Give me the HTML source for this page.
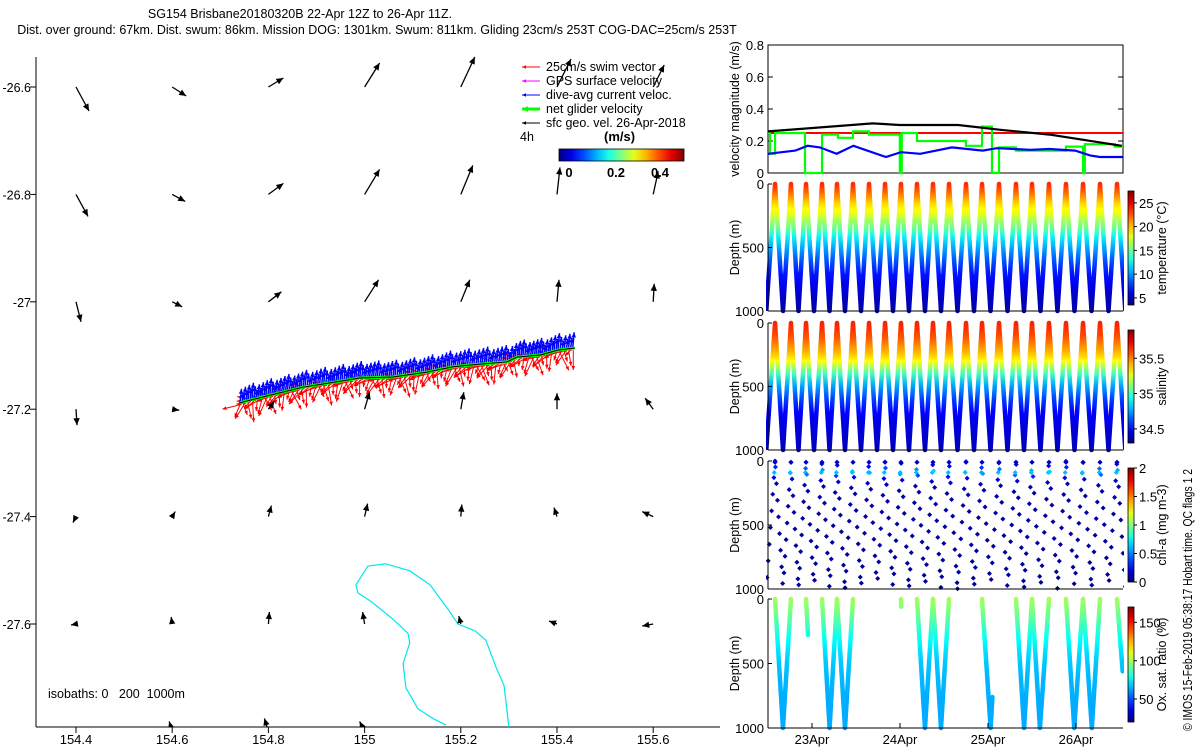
<!DOCTYPE html>
<html><head><meta charset="utf-8"><title>SG154 glider summary</title>
<style>
html,body{margin:0;padding:0;background:#fff;}
svg{display:block;font-family:"Liberation Sans",sans-serif;}
</style></head>
<body>
<svg id="root" width="1200" height="750" viewBox="0 0 1200 750" xmlns="http://www.w3.org/2000/svg">
<defs>
<clipPath id="mapClip"><rect x="36" y="45" width="684" height="682"/></clipPath>
<clipPath id="tsClip"><rect x="766" y="30" width="358" height="720"/></clipPath>
</defs>
<text x="300" y="18" font-size="12.5" text-anchor="middle">SG154 Brisbane20180320B 22-Apr 12Z to 26-Apr 11Z.</text>
<text x="377" y="34" font-size="12.5" text-anchor="middle">Dist. over ground: 67km. Dist. swum: 86km. Mission DOG: 1301km. Swum: 811km. Gliding 23cm/s 253T COG-DAC=25cm/s 253T</text>
<g id="map"></g>
<g id="ts"></g>
<text transform="translate(1192,731) rotate(-90)" font-size="12.5" textLength="262" lengthAdjust="spacingAndGlyphs">© IMOS 15-Feb-2019 05:38:17 Hobart time. QC flags 1 2</text>
</svg>
<script>
// ---------- DATA ----------
const gridLons = [154.4, 154.6, 154.8, 155.0, 155.2, 155.4, 155.6];
const gridLats = [-26.6, -26.8, -27.0, -27.2, -27.4, -27.6, -27.8];
const geoU = [
  [0.13,0.14,0.15,0.15,0.14,0.14,0.11],
  [0.12,0.13,0.15,0.15,0.12,0.03,0.05],
  [0.05,0.10,0.13,0.14,0.09,0.02,0.01],
  [0.01,0.07,0.06,0.05,0.03,0.00,-0.08],
  [-0.03,0.03,0.03,0.03,0.01,-0.03,-0.11],
  [-0.05,-0.01,0.01,-0.02,-0.02,-0.08,-0.11],
  [-0.01,-0.03,-0.04,-0.05,0.00,0.00,0.00]];
const geoV = [
  [-0.24,-0.09,0.09,0.24,0.30,0.28,0.22],
  [-0.22,-0.07,0.11,0.25,0.29,0.27,0.23],
  [-0.20,-0.05,0.10,0.22,0.22,0.22,0.18],
  [-0.16,-0.01,0.08,0.17,0.17,0.16,0.11],
  [-0.06,0.05,0.11,0.13,0.12,0.09,0.05],
  [-0.01,0.07,0.12,0.12,0.08,0.03,-0.02],
  [0.03,0.10,0.13,0.10,0.02,0.02,0.02]];
const trackLon = [154.741,154.803,154.872,154.928,154.990,155.059,155.130,155.184,155.240,155.296,155.317,155.365,155.402,155.437];
const trackLat = [-27.188,-27.174,-27.159,-27.151,-27.142,-27.140,-27.131,-27.121,-27.116,-27.112,-27.103,-27.099,-27.090,-27.086];
const isoLon = [155.169,155.144,155.111,155.086,155.080,155.094,155.090,155.059,155.015,154.986,154.982,155.007,155.044,155.094,155.136,155.173,155.194,155.230,155.252,155.273,155.290,155.300];
const isoLat = [-27.788,-27.777,-27.758,-27.719,-27.674,-27.635,-27.617,-27.591,-27.559,-27.542,-27.527,-27.492,-27.488,-27.501,-27.527,-27.572,-27.600,-27.613,-27.630,-27.680,-27.715,-27.792];
const blackT = [-0.5,0.69,1.0,1.66,2.14,2.70,3.52];
const blackV = [0.26,0.31,0.30,0.30,0.27,0.24,0.17];
const blueT = [-0.5,-0.19,-0.05,0.09,0.28,0.47,0.84,1.01,1.23,1.59,1.94,2.10,2.48,2.70,2.99,3.16,3.27,3.53];
const blueV = [0.12,0.14,0.17,0.16,0.12,0.17,0.10,0.13,0.12,0.16,0.14,0.155,0.145,0.15,0.14,0.11,0.10,0.10];
const greenT = [-0.5,-0.477,-0.42,-0.08,0.114,0.295,0.466,0.648,0.998,1.02,1.193,1.75,1.932,2.045,2.125,2.318,2.886,3.08,3.1,3.44];
const greenV = [0.25,0.12,0.25,0,0.24,0.22,0.26,0.24,0,0.25,0.20,0.17,0.29,0,0.16,0.14,0.165,0,0.18,0.165];
const redV = 0.25;
const surfaceT = [-0.420,-0.239,-0.068,0.114,0.284,0.466,0.648,0.830,1.011,1.193,1.375,1.557,1.750,1.932,2.125,2.318,2.500,2.693,2.886,3.080,3.273,3.466];
const firstBottomT = -0.52;
const profDepth = [0,50,100,150,200,250,300,350,400,500,600,700,800,900,1000];
const tempProf = [23.5,22.5,21,19.5,18.5,17.5,16,15,13,10.5,8.5,7,6,5,4.5];
const salProf = [35.65,35.62,35.58,35.52,35.45,35.38,35.3,35.15,35.0,34.75,34.6,34.5,34.45,34.42,34.4];
const oxProf = [100,97,94,90,86,82,78,75,72,68,66,65,64,64,64];
const chlDepth = [0,40,80,100,130,200,1000];
const chlProf = [0.12,0.2,0.7,0.55,0.2,0.08,0.05];
const oxLegs = [[-0.420,0,-0.330,1000],[-0.330,1000,-0.239,0],[-0.068,0,-0.045,280],
  [0.114,0,0.20,1000],[0.20,1000,0.284,0],[0.284,0,0.375,1000],[0.375,1000,0.466,0],
  [1.011,0,1.014,60],[1.193,0,1.284,1000],[1.284,1000,1.375,0],[1.375,0,1.466,1000],[1.466,1000,1.557,0],
  [1.932,0,2.03,1000],[2.03,1000,2.05,760],[2.318,0,2.41,1000],[2.41,1000,2.50,0],[2.50,0,2.59,1000],[2.59,1000,2.693,0],
  [2.886,0,2.98,1000],[2.98,1000,3.08,0],[3.08,0,3.18,1000],[3.18,1000,3.273,0],[3.466,0,3.53,560]];
const dayTicks = [0,1,2,3];
const dayLabels = ['23Apr','24Apr','25Apr','26Apr'];
const velTicks = [0,0.2,0.4,0.6,0.8];

// ---------- HELPERS ----------
const NS='http://www.w3.org/2000/svg';
function mk(tag, attrs, parent){const e=document.createElementNS(NS,tag);for(const k in attrs)e.setAttribute(k,attrs[k]);parent.appendChild(e);return e;}
function jet(v){v=Math.max(0,Math.min(1,v));const c=x=>Math.round(255*Math.max(0,Math.min(1,1.5-Math.abs(x))));return `rgb(${c(4*v-3)},${c(4*v-2)},${c(4*v-1)})`;}
const root=document.getElementById('root');
const defs=root.querySelector('defs');
const map=document.getElementById('map');
const ts=document.getElementById('ts');
const lonX=l=>76+(l-154.4)*481;
const latY=l=>87+(-26.6-l)*537;
const tX=t=>812+88*t;
const fmt=v=>{const s=v.toFixed(1);return s.endsWith('.0')?s.slice(0,-2):s;};

// ---------- MAP ----------
let e;
e=mk('line',{x1:36,y1:57,x2:36,y2:727,stroke:'#000'},map);


e=mk('line',{x1:36,y1:727,x2:720,y2:727,stroke:'#000'},map);


gridLats.slice(0,6).forEach(la=>{const y=latY(la);
  mk('line',{x1:30,y1:y,x2:36,y2:y,stroke:'#000'},map);
  e=mk('text',{x:31,y:y+5,'font-size':12.5,'text-anchor':'end'},map);e.textContent=fmt(la);
  
  });
gridLons.forEach(lo=>{const x=lonX(lo);
  mk('line',{x1:x,y1:727,x2:x,y2:733,stroke:'#000'},map);
  e=mk('text',{x:x,y:744,'font-size':13,'text-anchor':'middle'},map);e.textContent=fmt(lo);
  
  });
const mg=mk('g',{'clip-path':'url(#mapClip)'},map);
e=mk('polyline',{points:isoLon.map((l,i)=>lonX(l)+','+latY(isoLat[i])).join(' '),fill:'none',stroke:'#00e5ee','stroke-width':1.2},mg);


function arrow(g,x1,y1,x2,y2,col,w,hs){
  mk('line',{x1:x1,y1:y1,x2:x2,y2:y2,stroke:col,'stroke-width':w},g);
  const a=Math.atan2(y2-y1,x2-x1),L=hs,W=hs*0.45;
  const bx=x2-L*Math.cos(a),by=y2-L*Math.sin(a);
  return mk('polygon',{points:`${x2},${y2} ${bx-W*Math.sin(a)},${by+W*Math.cos(a)} ${bx+W*Math.sin(a)},${by-W*Math.cos(a)}`,fill:col},g);
}
const trk=mk('g',{},mg);


const tp=trackLon.map((l,i)=>[lonX(l),latY(trackLat[i])]);
let k=0;
for(let i=0;i<tp.length-1;i++){const [x1,y1]=tp[i],[x2,y2]=tp[i+1];const n=Math.max(2,Math.round((x2-x1)/1.6));
  for(let j=0;j<n;j++){const f=j/n,x=x1+(x2-x1)*f,y=y1+(y2-y1)*f;k++;
    const ang=(60+((k*53)%150))*Math.PI/180,len=8+((k*7)%16);
    arrow(trk,x,y+2,x+len*Math.cos(ang)*0.9,y+2+len*Math.sin(ang)*0.9,'#ff0000',1,4);
  }}
k=0;
for(let i=0;i<tp.length-1;i++){const [x1,y1]=tp[i],[x2,y2]=tp[i+1];const n=Math.max(2,Math.round((x2-x1)/2));
  for(let j=0;j<n;j++){const f=j/n,x=x1+(x2-x1)*f,y=y1+(y2-y1)*f;k++;
    const len=9+((k*5)%9);
    arrow(trk,x,y,x+1.5,y-len,'#0000ff',1.5,5);
  }}
e=mk('polyline',{points:tp.map(p=>p.join(',')).join(' '),fill:'none',stroke:'#00ff00','stroke-width':3},trk);


e=mk('polyline',{points:tp.map(p=>p.join(',')).join(' '),fill:'none',stroke:'#000','stroke-width':1},trk);


gridLats.forEach((la,r)=>gridLons.forEach((lo,c)=>{
  const x=lonX(lo),y=latY(la),u=geoU[r][c],v=geoV[r][c];
  const g=mk('g',{},mg);
  
  
  arrow(g,x,y,x+u*100,y-v*100,'#000',1.3,7);
}));
const lg=mk('g',{},map);


const legTxt=['25cm/s swim vector','GPS surface velocity','dive-avg current veloc.','net glider velocity','sfc geo. vel. 26-Apr-2018'];
const legCol=['#ff0000','#ff00ff','#0000ff','#00ff00','#000000'];
legTxt.forEach((t,i)=>{const y=67+i*14;
  arrow(lg,540,y,522,y,legCol[i],i===3?3:1,i===3?6:4);
  e=mk('text',{x:546,y:y+4,'font-size':12.5},lg);e.textContent=t;
  
  });
e=mk('text',{x:520,y:141,'font-size':12.5},lg);e.textContent='4h';


e=mk('text',{x:604,y:141,'font-size':13,'font-weight':'bold'},lg);e.textContent='(m/s)';


const hg=mk('linearGradient',{id:'hjet',x1:0,y1:0,x2:1,y2:0},defs);
for(let i=0;i<=10;i++)mk('stop',{offset:i/10,'stop-color':jet(i/10)},hg);
e=mk('rect',{x:559,y:149,width:125,height:12,fill:'url(#hjet)',stroke:'#000','stroke-width':0.8},lg);


[['0',569],['0.2',616],['0.4',660]].forEach(([t,x])=>{e=mk('text',{x:x,y:177,'font-size':13,'font-weight':'bold','text-anchor':'middle'},lg);e.textContent=t;
  
  });
e=mk('text',{x:48,y:698,'font-size':12.5},map);e.textContent='isobaths: 0   200  1000m';


e.style.whiteSpace='pre';

// ---------- TIME SERIES ----------
const L=768,R=1123;
const vTop=45,vBot=173,vY=v=>vBot-(v/0.8)*(vBot-vTop);
e=mk('rect',{x:L,y:vTop,width:R-L,height:vBot-vTop,fill:'none',stroke:'#000'},ts);


velTicks.forEach(v=>{const y=vY(v);mk('line',{x1:L,y1:y,x2:L+5,y2:y,stroke:'#000'},ts);mk('line',{x1:R-5,y1:y,x2:R,y2:y,stroke:'#000'},ts);
  e=mk('text',{x:764,y:y+5,'font-size':13,'text-anchor':'end'},ts);e.textContent=v===0?'0':v.toFixed(1);
  
  });
e=mk('text',{transform:'translate(739,109) rotate(-90)','font-size':12.5,'text-anchor':'middle'},ts);e.textContent='velocity magnitude (m/s)';


const vc=mk('g',{'clip-path':'url(#tsClip)'},ts);
e=mk('line',{x1:L,y1:vY(redV),x2:R,y2:vY(redV),stroke:'#ff0000','stroke-width':2},vc);


let gp=[];greenT.forEach((t,i)=>{if(i>0)gp.push(tX(t)+','+vY(greenV[i-1]));gp.push(tX(t)+','+vY(greenV[i]));});gp.push(R+','+vY(greenV[greenV.length-1]));
e=mk('polyline',{points:gp.join(' '),fill:'none',stroke:'#00ff00','stroke-width':2.2},vc);


e=mk('polyline',{points:blueT.map((t,i)=>tX(t)+','+vY(blueV[i])).join(' '),fill:'none',stroke:'#0000ff','stroke-width':2.2},vc);


e=mk('polyline',{points:blackT.map((t,i)=>tX(t)+','+vY(blackV[i])).join(' '),fill:'none',stroke:'#000','stroke-width':2.2},vc);



const panels=[
 {name:'temperature',top:184,bot:311,cb:[191,305],min:3.5,max:27.5,ticks:[5,10,15,20,25],lab:'temperature (°C)',prof:tempProf},
 {name:'salinity',top:323,bot:450,cb:[330,443],min:34.3,max:35.9,ticks:[34.5,35,35.5],lab:'salinity',prof:salProf},
 {name:'chlorophyll',top:461,bot:589,cb:[468,582],min:0,max:2,ticks:[0,0.5,1,1.5,2],lab:'chl-a (mg m-3)'},
 {name:'oxygen',top:599,bot:728,cb:[607,722],min:20,max:170,ticks:[50,100,150],lab:'Ox. sat. ratio (%)',prof:oxProf}];
panels.forEach((p,pi)=>{
  const dY=d=>p.top+d/1000*(p.bot-p.top);
  const g=mk('g',{},ts);
  
  
  const c=mk('g',{'clip-path':'url(#tsClip)'},g);
  if(p.prof){
    const gr=mk('linearGradient',{id:'g'+pi,gradientUnits:'userSpaceOnUse',x1:0,y1:p.top,x2:0,y2:p.bot},defs);
    profDepth.forEach((d,i)=>mk('stop',{offset:d/1000,'stop-color':jet((p.prof[i]-p.min)/(p.max-p.min))},gr));
    if(p.name!=='oxygen'){
      const pts=[tX(firstBottomT)+','+dY(1000)];
      surfaceT.forEach((t,i)=>{pts.push(tX(t)+','+dY(0));const nt=i<surfaceT.length-1?surfaceT[i+1]:t+0.19;pts.push(tX((t+nt)/2)+','+dY(1000));});
      e=mk('polyline',{points:pts.join(' '),fill:'none',stroke:'url(#g'+pi+')','stroke-width':4.5,'stroke-linejoin':'round'},c);
      
      
    } else {
      oxLegs.forEach(l=>{e=mk('line',{x1:tX(l[0]),y1:dY(l[1]),x2:tX(l[2]),y2:dY(l[3]),stroke:'url(#g'+pi+')','stroke-width':4.5,'stroke-linecap':'round'},c);
        
        });
    }
  } else {
    const legs=[[firstBottomT,1000,surfaceT[0],0]];
    surfaceT.forEach((t,i)=>{const nt=i<surfaceT.length-1?surfaceT[i+1]:t+0.19,b=(t+nt)/2;legs.push([t,0,b,1000]);legs.push([b,1000,nt,0]);});
    legs.forEach((l,li)=>{const off=(li*47)%130;
      const depths=[];for(let d=off;d<=1000;d+=130)depths.push(d);
      if(li%2===0)depths.push(90);
      depths.push(10);
      depths.forEach(d=>{const f=(d-l[1])/(l[3]-l[1]);const x=tX(l[0]+(l[2]-l[0])*f),y=dY(d);
        let val=chlProf[chlProf.length-1];for(let q=0;q<chlDepth.length-1;q++){if(d>=chlDepth[q]&&d<=chlDepth[q+1]){val=chlProf[q]+(chlProf[q+1]-chlProf[q])*(d-chlDepth[q])/(chlDepth[q+1]-chlDepth[q]);break;}}
        e=mk('path',{d:`M${x-2.5},${y}L${x},${y-2.5}L${x+2.5},${y}L${x},${y+2.5}Z`,fill:jet(val/2)},c);
        
        });
    });
  }
  mk('line',{x1:L,y1:p.top,x2:L,y2:p.bot,stroke:'#000'},g);
  mk('line',{x1:L,y1:p.bot,x2:R,y2:p.bot,stroke:'#000'},g);
  [0,500,1000].forEach(d=>{const y=dY(d);mk('line',{x1:L,y1:y,x2:L+4,y2:y,stroke:'#000'},g);
    e=mk('text',{x:764,y:y+5,'font-size':13,'text-anchor':'end'},g);e.textContent=String(d);
    
    });
  e=mk('text',{transform:`translate(739,${(p.top+p.bot)/2}) rotate(-90)`,'font-size':12.5,'text-anchor':'middle'},g);e.textContent='Depth (m)';
  
  
  const vg=mk('linearGradient',{id:'cb'+pi,x1:0,y1:1,x2:0,y2:0},defs);
  for(let i=0;i<=10;i++)mk('stop',{offset:i/10,'stop-color':jet(i/10)},vg);
  e=mk('rect',{x:1128,y:p.cb[0],width:6,height:p.cb[1]-p.cb[0],fill:'url(#cb'+pi+')',stroke:'#000','stroke-width':0.8},g);
  
  
  p.ticks.forEach(v=>{const y=p.cb[1]-(v-p.min)/(p.max-p.min)*(p.cb[1]-p.cb[0]);
    mk('line',{x1:1134,y1:y,x2:1137,y2:y,stroke:'#000'},g);
    e=mk('text',{x:1139,y:y+5,'font-size':13},g);e.textContent=String(v);
    
    });
  e=mk('text',{transform:`translate(1166,${(p.cb[0]+p.cb[1])/2}) rotate(-90)`,'font-size':12.5,'text-anchor':'middle'},g);e.textContent=p.lab;
  
  
});
dayTicks.forEach((d,i)=>{const x=tX(d);
  mk('line',{x1:x,y1:728,x2:x,y2:723,stroke:'#000'},ts);
  e=mk('text',{x:x,y:744,'font-size':13,'text-anchor':'middle'},ts);e.textContent=dayLabels[i];
  
  });
</script>
</body></html>
